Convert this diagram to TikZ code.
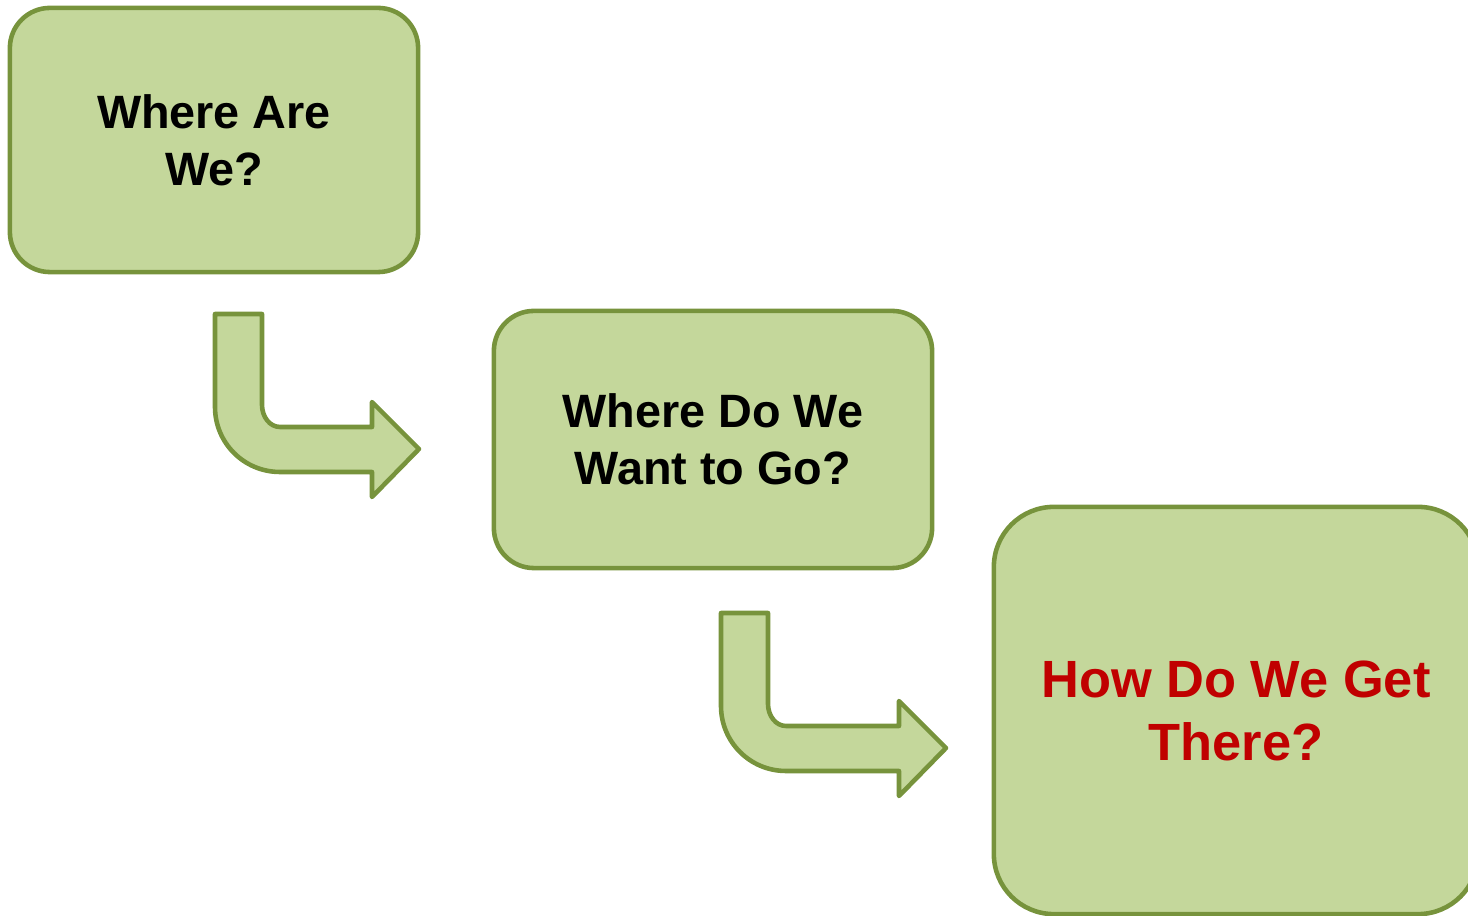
\documentclass[tikz,border=0pt]{standalone}
\usepackage{fontspec}
\setmainfont{Liberation Sans}
\definecolor{boxfill}{HTML}{C4D79B}
\definecolor{boxline}{HTML}{77933C}
\definecolor{askred}{HTML}{C00000}
\tikzset{
  qbox/.style={rectangle,draw=boxline,fill=boxfill,line width=1.3pt,rounded corners=0.4cm,
    align=center,font=\fontsize{13.3}{16.2}\selectfont\bfseries},
  bentarrow/.pic={
    \draw[draw=boxline,fill=boxfill,line width=1.3pt,line join=round]
      (0,0) -- (47,0) -- (47,91) .. controls (47,103) and (55,113) .. (65,113)
      -- (#1,113) -- (#1,88) -- (#1+47,135) -- (#1,183) -- (#1,158) -- (65,158)
      .. controls (29,158) and (0,129) .. (0,93) -- cycle;
  }
}
\begin{document}
\begin{tikzpicture}[x=0.01cm,y=-0.01cm]
\clip (0,0) rectangle (1468,916);
\node[qbox,minimum width=4.08cm,minimum height=2.64cm] (where) at (214,140) {Where Are\\We?};
\node[qbox,minimum width=4.38cm,minimum height=2.57cm] (want) at (713,439.5) {Where Do We\\Want to Go?};
\node[qbox,minimum width=4.84cm,minimum height=4.07cm,rounded corners=0.6cm,text=askred,
  font=\fontsize{14.9}{17.9}\selectfont\bfseries] (how) at (1236,710.5) {How Do We Get\\There?};
% bent arrows between the boxes
\pic at (215,314) {bentarrow=157};
\pic at (721,613) {bentarrow=178};
\end{tikzpicture}
\end{document}
